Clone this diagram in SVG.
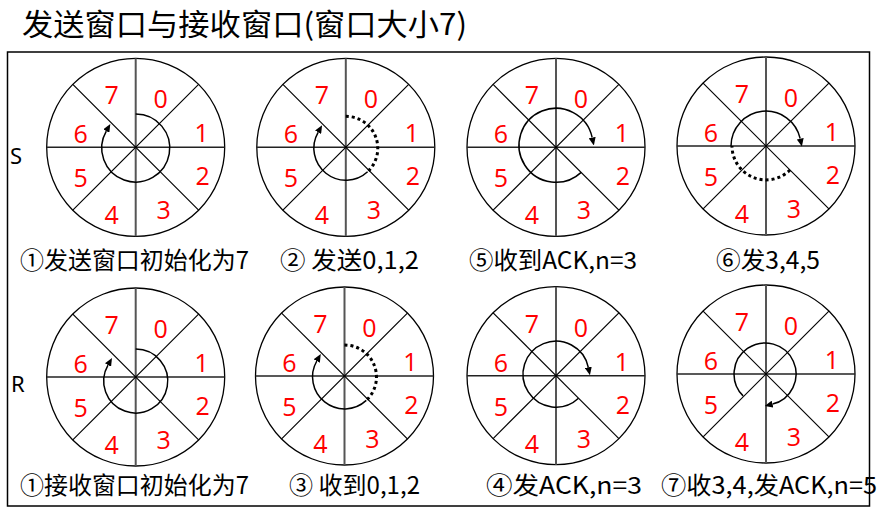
<svg xmlns="http://www.w3.org/2000/svg" width="882" height="515" viewBox="0 0 882 515">
<style>
.rim{fill:none;stroke:#000;stroke-width:1.3}
.v{stroke:#555;stroke-width:2}
.h{stroke:#222;stroke-width:1.5}
.d{stroke:#000;stroke-width:1.2}
.num{font-family:"Open Sans","Noto Sans",sans-serif;font-size:25px;fill:#ff0000;text-anchor:middle}
.arc{fill:none;stroke:#000;stroke-width:1.5}
.dot{fill:none;stroke:#000;stroke-width:3;stroke-dasharray:3 3}
.cap{font-family:"Noto Sans CJK SC","Noto Sans",sans-serif;font-size:24px;fill:#000}
.side{font-family:"Noto Sans","Open Sans",sans-serif;font-size:22px;fill:#000}
</style>
<defs>
<marker id="ah" markerUnits="userSpaceOnUse" viewBox="0 -3.5 8 7" refX="0" refY="0" markerWidth="8" markerHeight="7" orient="auto">
<path d="M0,-3.5 L8,0 L0,3.5 z" fill="#000"/>
</marker>
<g id="wheel">
<circle r="89" class="rim"/>
<line x1="0" y1="-89" x2="0" y2="89" class="v"/>
<line x1="-89" y1="0" x2="89" y2="0" class="h"/>
<line x1="-62.9" y1="-62.9" x2="62.9" y2="62.9" class="d"/>
<line x1="-62.9" y1="62.9" x2="62.9" y2="-62.9" class="d"/>
<text class="num" x="-24" y="-43">7</text>
<text class="num" x="25" y="-39">0</text>
<text class="num" x="66" y="-5">1</text>
<text class="num" x="67" y="38">2</text>
<text class="num" x="28" y="72">3</text>
<text class="num" x="-24" y="77">4</text>
<text class="num" x="-55" y="40">5</text>
<text class="num" x="-55" y="-4">6</text>
</g>
</defs>
<rect x="7.5" y="52" width="862" height="454" fill="none" stroke="#000" stroke-width="1.5"/>
<text x="22" y="35" font-family="Noto Sans CJK SC,sans-serif" font-size="30" textLength="445" lengthAdjust="spacingAndGlyphs">发送窗口与接收窗口(窗口大小7)</text>
<text class="side" x="10" y="164">S</text>
<text class="side" x="11" y="392">R</text>

<g id="s1" transform="translate(135.7,147.3)">
<use href="#wheel"/>
<path class="arc" d="M0,-33.3 A34,34 0 1 1 -29.4,-16.3" marker-end="url(#ah)"/>
</g>
<g id="s2" transform="translate(345.8,147.3)">
<use href="#wheel"/>
<path class="dot" d="M0,-31 A32,32 0 0 1 21.8,24.4"/>
<path class="arc" d="M21.8,24.4 A32,32 0 0 1 -27.7,-15" marker-end="url(#ah)"/>
</g>
<g id="s5" transform="translate(556,147.3)">
<use href="#wheel"/>
<path class="arc" d="M25.2,25.1 A37,37 0 1 1 36.2,-9.7" marker-end="url(#ah)"/>
</g>
<g id="s6" transform="translate(766,146)">
<use href="#wheel"/>
<path class="arc" d="M-35,0 A35,35 0 0 1 34.2,-7.3" marker-end="url(#ah)"/>
<path class="dot" d="M24,24 A34,34 0 0 1 -34,0"/>
</g>
<g id="r1" transform="translate(135.7,377)">
<use href="#wheel"/>
<path class="arc" d="M0,-28 A32,32 0 1 1 -27.7,-12" marker-end="url(#ah)"/>
</g>
<g id="r3" transform="translate(344.5,376)">
<use href="#wheel"/>
<path class="dot" d="M0,-31 A32,32 0 0 1 21.8,24.4"/>
<path class="arc" d="M21.8,24.4 A32,32 0 0 1 -27.7,-15" marker-end="url(#ah)"/>
</g>
<g id="r4" transform="translate(556,375.7)">
<use href="#wheel"/>
<path class="arc" d="M22.5,22.6 A33,33 0 1 1 32.3,-8.4" marker-end="url(#ah)"/>
</g>
<g id="r7" transform="translate(766,374)">
<use href="#wheel"/>
<path class="arc" d="M-22.9,21.9 A31,31 0 1 1 6.5,30.1" marker-end="url(#ah)"/>
</g>

<g id="captions">
<text class="cap" x="20" y="269" textLength="229" lengthAdjust="spacingAndGlyphs">①发送窗口初始化为7</text>
<text class="cap" x="280" y="269" textLength="139" lengthAdjust="spacingAndGlyphs">② 发送0,1,2</text>
<text class="cap" x="469" y="269" textLength="168" lengthAdjust="spacingAndGlyphs">⑤收到ACK,n=3</text>
<text class="cap" x="716" y="269" textLength="104" lengthAdjust="spacingAndGlyphs">⑥发3,4,5</text>
<text class="cap" x="20" y="494" textLength="229" lengthAdjust="spacingAndGlyphs">①接收窗口初始化为7</text>
<text class="cap" x="289" y="494" textLength="131" lengthAdjust="spacingAndGlyphs">③ 收到0,1,2</text>
<text class="cap" x="486" y="494" textLength="156" lengthAdjust="spacingAndGlyphs">④发ACK,n=3</text>
<text class="cap" x="661" y="494" textLength="216" lengthAdjust="spacingAndGlyphs">⑦收3,4,发ACK,n=5</text>
</g>
</svg>
